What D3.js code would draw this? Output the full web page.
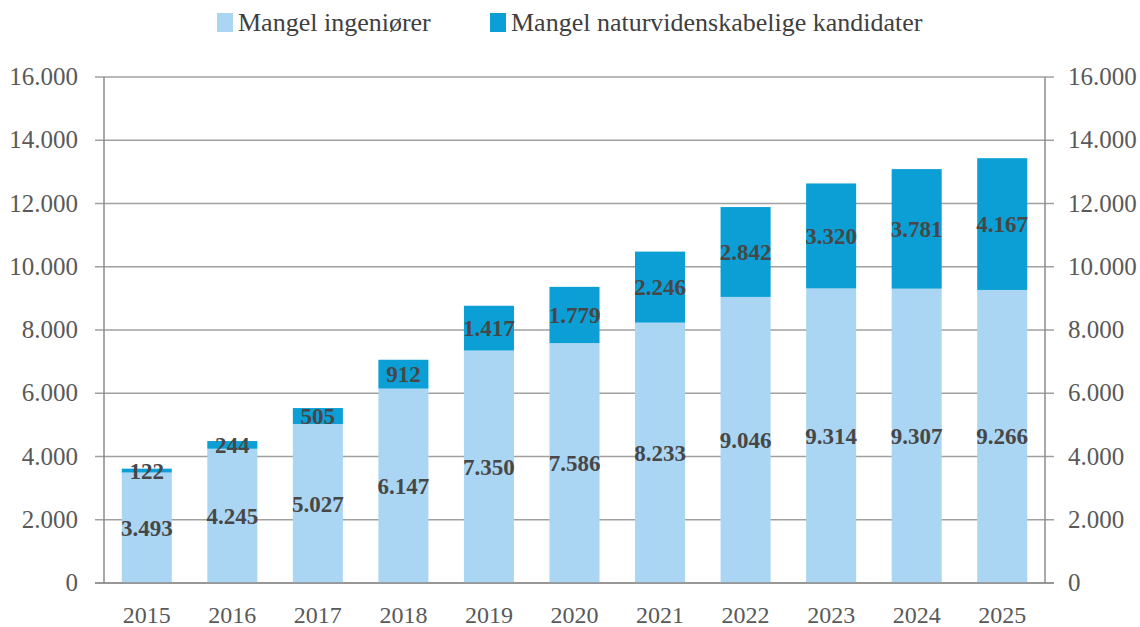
<!DOCTYPE html>
<html><head><meta charset="utf-8">
<script src="https://cdn.jsdelivr.net/npm/d3@7"></script>
<style>body{margin:0;background:#fff}svg{display:block}</style>
</head><body>
<svg id="c" width="1140" height="627"></svg>
<script>
const years = ["2015","2016","2017","2018","2019","2020","2021","2022","2023","2024","2025"];
const ingenior = [3493,4245,5027,6147,7350,7586,8233,9046,9314,9307,9266];
const natur = [122,244,505,912,1417,1779,2246,2842,3320,3781,4167];
const yTicks = [0,2000,4000,6000,8000,10000,12000,14000,16000];
const seriesNames = ["Mangel ingeniører","Mangel naturvidenskabelige kandidater"];
const colors = ["#abd6f3","#0b9fd6"];

const svg = d3.select("#c");
const L = 104, R = 1045, T = 77, B = 583;
const font = "'Liberation Serif', 'Times New Roman', serif";
const fmt = v => d3.format(",")(v).replace(/,/g, ".");

const x = d3.scaleBand().domain(years).range([L, R]).paddingInner(0.415).paddingOuter(0.2075);
const y = d3.scaleLinear().domain([0, 16000]).range([B, T]);

// gridlines
svg.append("g").selectAll("line").data(yTicks).join("line")
  .attr("x1", L - 9).attr("x2", R + 9)
  .attr("y1", d => y(d)).attr("y2", d => y(d))
  .attr("stroke", "#a0a0a0").attr("stroke-width", 1.5);

// axes lines
svg.append("line").attr("x1", L).attr("x2", L).attr("y1", T).attr("y2", B).attr("stroke", "#8c8c8c").attr("stroke-width", 1.5);
svg.append("line").attr("x1", R).attr("x2", R).attr("y1", T).attr("y2", B).attr("stroke", "#8c8c8c").attr("stroke-width", 1.5);

const stack = years.map((yr, i) => ({yr, a: ingenior[i], b: natur[i]}));

const g = svg.append("g");
g.selectAll("rect.a").data(stack).join("rect").attr("class","a")
  .attr("x", d => x(d.yr)).attr("width", x.bandwidth())
  .attr("y", d => y(d.a)).attr("height", d => B - y(d.a))
  .attr("fill", colors[0]);
g.selectAll("rect.b").data(stack).join("rect").attr("class","b")
  .attr("x", d => x(d.yr)).attr("width", x.bandwidth())
  .attr("y", d => y(d.a + d.b)).attr("height", d => y(d.a) - y(d.a + d.b))
  .attr("fill", colors[1]);

// bottom axis line over bars
svg.append("line").attr("x1", L - 9).attr("x2", R + 9).attr("y1", B).attr("y2", B).attr("stroke", "#8c8c8c").attr("stroke-width", 1.5);

// data labels
const lab = svg.append("g").attr("font-family", font).attr("font-size", 23).attr("font-weight", "bold")
  .attr("fill", "#474747").attr("text-anchor", "middle");
lab.selectAll("text.a").data(stack).join("text")
  .attr("x", d => x(d.yr) + x.bandwidth()/2)
  .attr("y", d => (y(0) + y(d.a))/2 + 8)
  .text(d => fmt(d.a));
lab.selectAll("text.b").data(stack).join("text")
  .attr("x", d => x(d.yr) + x.bandwidth()/2)
  .attr("y", d => (y(d.a) + y(d.a + d.b))/2 + 8)
  .text(d => fmt(d.b));

// y tick labels
const tl = svg.append("g").attr("font-family", font).attr("font-size", 25).attr("fill", "#595959");
tl.selectAll("text.l").data(yTicks).join("text")
  .attr("x", 78).attr("y", d => y(d) + 8).attr("text-anchor", "end").text(d => fmt(d));
tl.selectAll("text.r").data(yTicks).join("text")
  .attr("x", 1068).attr("y", d => y(d) + 8).attr("text-anchor", "start").text(d => fmt(d));

// x labels
tl.selectAll("text.x").data(years).join("text")
  .attr("font-size", 24)
  .attr("x", d => x(d) + x.bandwidth()/2).attr("y", 623).attr("text-anchor", "middle").text(d => d);

// legend
const lg = svg.append("g").attr("font-family", font).attr("font-size", 26).attr("fill", "#404040");
const legX = [217, 490];
seriesNames.forEach((n, i) => {
  lg.append("rect").attr("x", legX[i]).attr("y", 13).attr("width", 16).attr("height", 19).attr("fill", colors[i]);
  lg.append("text").attr("x", legX[i] + 21).attr("y", 31).text(n);
});
</script>
</body></html>
